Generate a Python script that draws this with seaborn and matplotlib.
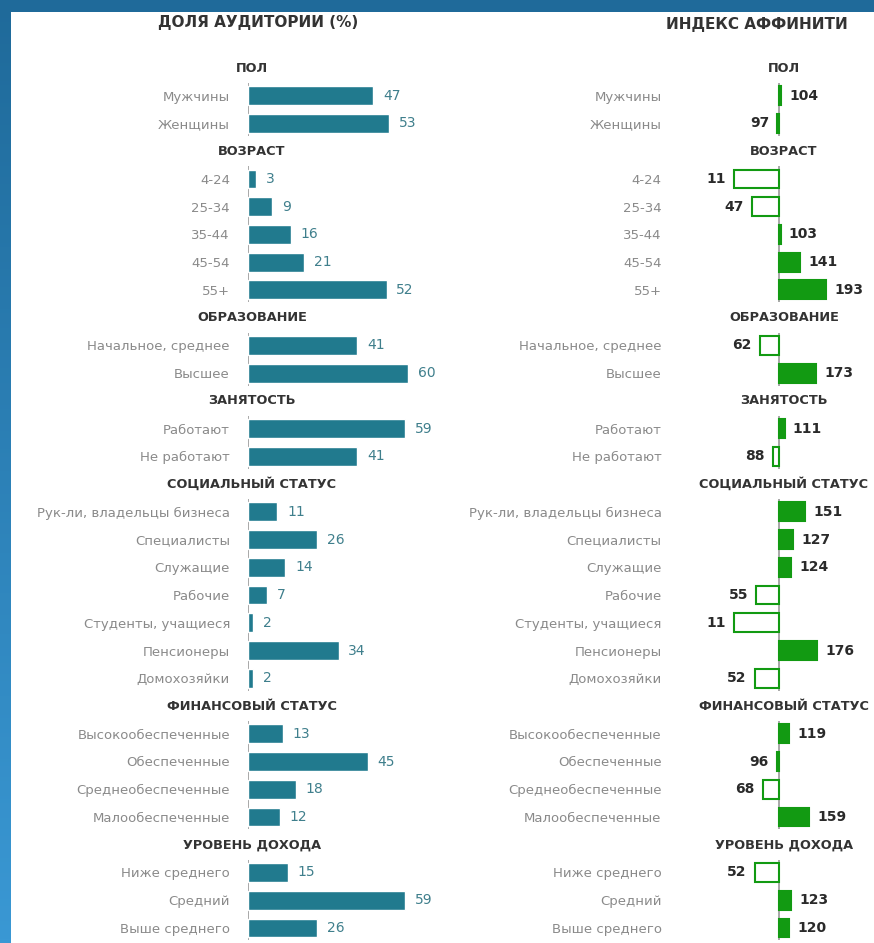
import numpy as np
import pandas as pd
import seaborn as sns
import matplotlib.pyplot as plt
from matplotlib import font_manager
from matplotlib.colors import LinearSegmentedColormap
from matplotlib.patches import Rectangle

# Данные: доля аудитории (%) и индекс аффинити по группам
groups = ["ПОЛ", "ВОЗРАСТ", "ОБРАЗОВАНИЕ", "ЗАНЯТОСТЬ",
          "СОЦИАЛЬНЫЙ СТАТУС", "ФИНАНСОВЫЙ СТАТУС", "УРОВЕНЬ ДОХОДА"]
labels = [
    ["Мужчины", "Женщины"],
    ["4-24", "25-34", "35-44", "45-54", "55+"],
    ["Начальное, среднее", "Высшее"],
    ["Работают", "Не работают"],
    ["Рук-ли, владельцы бизнеса", "Специалисты", "Служащие", "Рабочие",
     "Студенты, учащиеся", "Пенсионеры", "Домохозяйки"],
    ["Высокообеспеченные", "Обеспеченные", "Среднеобеспеченные", "Малообеспеченные"],
    ["Ниже среднего", "Средний", "Выше среднего"],
]
share = [[47, 53], [3, 9, 16, 21, 52], [41, 60], [59, 41],
         [11, 26, 14, 7, 2, 34, 2], [13, 45, 18, 12], [15, 59, 26]]
affinity = [[104, 97], [11, 47, 103, 141, 193], [62, 173], [111, 88],
            [151, 127, 124, 55, 11, 176, 52], [119, 96, 68, 159], [52, 123, 120]]

# строки: заголовок группы, затем её пункты
rows, heads = [], []
r = 0
for g, labs, sh, af in zip(groups, labels, share, affinity):
    heads.append({"group": g, "row": r})
    r += 1
    for lab, s, a in zip(labs, sh, af):
        rows.append({"group": g, "label": lab, "share": s, "affinity": a, "row": r})
        r += 1
df = pd.DataFrame(rows)
hd = pd.DataFrame(heads)
df["delta"] = df["affinity"] - 100
n_rows = r

TEAL = "#217a8e"
GREEN = "#129a12"
LABEL_C = "#8a8a8a"
W, H = 874, 943

sns.set_style("white")
plt.rcParams["font.family"] = ["DejaVu Sans"]

# узкий шрифт для заголовков, если он есть
names = {f.name for f in font_manager.fontManager.ttflist}
if "Liberation Sans Narrow" in names:
    head_font, head_size = "Liberation Sans Narrow", 11.5
else:
    head_font, head_size = "DejaVu Sans", 9.3

fig = plt.figure(figsize=(W / 100, H / 100), dpi=100)

# синяя рамка с градиентом и белое поле
bg = fig.add_axes([0, 0, 1, 1])
grad = np.linspace(0, 1, 256).reshape(-1, 1)
cmap = LinearSegmentedColormap.from_list("frame", ["#1f6a9a", "#3a98d4"])
bg.imshow(grad, aspect="auto", cmap=cmap, extent=[0, W, 0, H])
bg.add_patch(Rectangle((11, 0), W - 11, H - 12, facecolor="white", edgecolor="none"))
bg.set_xlim(0, W)
bg.set_ylim(0, H)
bg.axis("off")

# геометрия строк в пикселях
row0, step = 68, 27.74
top_px = row0 - 0.5 * step
bot_px = row0 + (n_rows - 0.5) * step
ax_b = (H - bot_px) / H
ax_h = (bot_px - top_px) / H

# левая панель: доля аудитории
ax1 = fig.add_axes([248 / W, ax_b, 200 / W, ax_h])
ax1.set_facecolor("none")
sns.barplot(data=df, x="share", y="row", orient="h", native_scale=True,
            color=TEAL, width=0.68, saturation=1, ax=ax1)
ax1.set_xlim(0, 75)
for _, d in df.iterrows():
    ax1.annotate(str(d["share"]), (d["share"], d["row"]), xytext=(7, 0),
                 textcoords="offset points", va="center", ha="left",
                 fontsize=10, color="#3f7f8c")

# правая панель: индекс аффинити (относительно 100)
ax2 = fig.add_axes([731 / W, ax_b, (W - 731) / W, ax_h])
ax2.set_facecolor("none")
sns.barplot(data=df, x="delta", y="row", orient="h", native_scale=True,
            color=GREEN, width=0.68, saturation=1, ax=ax2)
ax2.set_xlim(-95, 188)
for p in ax2.patches:
    p.set_edgecolor(GREEN)
    p.set_linewidth(1.5)
    if p.get_width() < 0:
        p.set_facecolor("white")
for _, d in df.iterrows():
    neg = d["delta"] < 0
    ax2.annotate(str(d["affinity"]), (d["delta"], d["row"]),
                 xytext=(-6 if neg else 6, 0), textcoords="offset points",
                 va="center", ha="right" if neg else "left",
                 fontsize=10, fontweight="bold", color="#2a2a2a")

for ax, pad, hx in [(ax1, 13, 1.5), (ax2, 50, 10)]:
    ax.set_ylim(n_rows - 0.5, -0.5)
    ax.set_yticks(df["row"])
    ax.set_yticklabels(df["label"], fontsize=9.5, color=LABEL_C)
    ax.tick_params(axis="y", length=0, pad=pad)
    ax.set_xticks([])
    ax.set_xlabel("")
    ax.set_ylabel("")
    sns.despine(ax=ax, left=True, bottom=True)
    # вертикальная ось для каждой группы
    for g, sub in df.groupby("group", sort=False):
        ax.vlines(0, sub["row"].min() - 0.45, sub["row"].max() + 0.45,
                  color="#9a9a9a", lw=1.2, zorder=0)
    for _, h in hd.iterrows():
        ax.text(hx, h["row"], h["group"], ha="center", va="center",
                family=head_font, fontsize=head_size, fontweight="bold",
                color="#333333")

fig.text(258 / W, 1 - 22 / H, "ДОЛЯ АУДИТОРИИ (%)", ha="center", va="center",
         fontsize=11, fontweight="bold", color="#333333")
fig.text(757 / W, 1 - 25 / H, "ИНДЕКС АФФИНИТИ", ha="center", va="center",
         fontsize=11, fontweight="bold", color="#333333")

fig.savefig("out.png", dpi=100)
